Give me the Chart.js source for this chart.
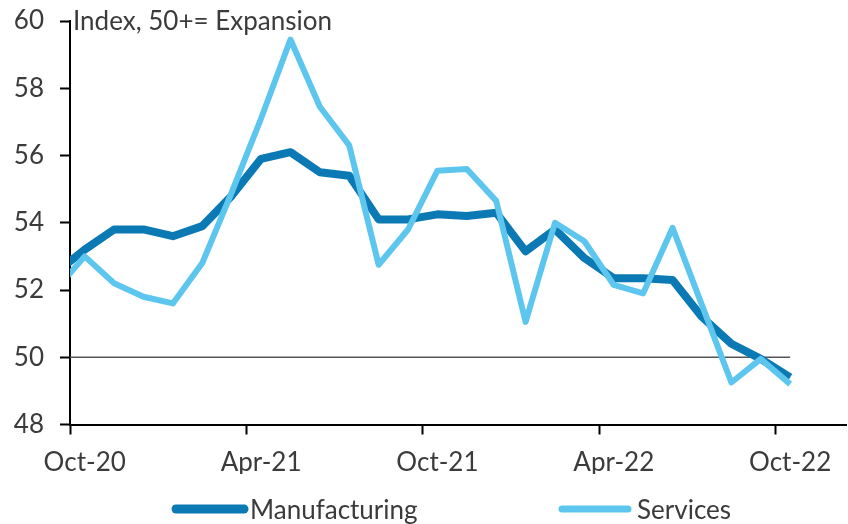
<!DOCTYPE html>
<html>
<head>
<meta charset="utf-8">
<script src="https://cdn.jsdelivr.net/npm/chart.js@4"></script>
<style>
  body { margin: 0; background: #fff; }
  #wrap { width: 848px; height: 524px; }
</style>
</head>
<body>
<div id="wrap"><canvas id="pmiChart"></canvas></div>
<script>
// monthly PMI readings, Sep-20 is only partly visible (clipped at the axis)
const months = ['Sep-20', 'Oct-20', 'Nov-20', 'Dec-20', 'Jan-21', 'Feb-21', 'Mar-21', 'Apr-21', 'May-21',
    'Jun-21', 'Jul-21', 'Aug-21', 'Sep-21', 'Oct-21', 'Nov-21', 'Dec-21', 'Jan-22', 'Feb-22', 'Mar-22',
    'Apr-22', 'May-22', 'Jun-22', 'Jul-22', 'Aug-22', 'Sep-22', 'Oct-22'];
const manufacturing = [52.5, 53.2, 53.8, 53.8, 53.6, 53.9, 54.8, 55.9, 56.1, 55.5, 55.4, 54.1, 54.1,
    54.25, 54.2, 54.3, 53.15, 53.8, 52.95, 52.35, 52.35, 52.3, 51.2, 50.4, 49.95, 49.4];
const services = [52.0, 53.0, 52.2, 51.8, 51.6, 52.8, 54.9, 57.1, 59.45, 57.45, 56.3, 52.75, 53.8,
    55.55, 55.6, 54.65, 51.05, 54.0, 53.45, 52.15, 51.9, 53.85, 51.55, 49.25, 49.95, 49.2];
const tickLabels = ['Oct-20', 'Apr-21', 'Oct-21', 'Apr-22', 'Oct-22'];
const yTicks = [48, 50, 52, 54, 56, 58, 60];
const refLevel = 50;
const axisNote = 'Index, 50+= Expansion';

const FONT = 'Lato';
const TEXT = '#3b3b3b';

// month i of the list sits in the middle of its month, Oct-20 starts at 0
const toPoints = arr => arr.map((v, i) => ({ x: i - 0.5, y: v }));

const notePlugin = {
    id: 'axisNote',
    afterDraw(chart) {
        const ctx = chart.ctx;
        const y = chart.scales.y.getPixelForValue(60);
        ctx.save();
        ctx.font = `26px ${FONT}`;
        ctx.fillStyle = TEXT;
        ctx.textBaseline = 'middle';
        ctx.fillText(axisNote, chart.chartArea.left + 3, y + 1);
        ctx.restore();
    }
};

const legendPlugin = {
    id: 'lineLegend',
    afterDraw(chart) {
        const ctx = chart.ctx;
        const spots = [[176, 244, 250], [562, 628, 637]];
        ctx.save();
        ctx.font = `26px ${FONT}`;
        ctx.textBaseline = 'middle';
        chart.data.datasets.slice(0, 2).forEach((ds, i) => {
            const [x0, x1, tx] = spots[i];
            ctx.strokeStyle = ds.borderColor;
            ctx.lineWidth = i === 0 ? 9 : 7;
            ctx.lineCap = 'round';
            ctx.beginPath();
            ctx.moveTo(x0, 509);
            ctx.lineTo(x1, 509);
            ctx.stroke();
            ctx.fillStyle = TEXT;
            ctx.fillText(ds.label, tx, 511);
        });
        ctx.restore();
    }
};

new Chart(document.getElementById('pmiChart'), {
    type: 'line',
    data: {
        datasets: [
            {
                label: 'Manufacturing',
                data: toPoints(manufacturing),
                borderColor: '#0b79b3',
                borderWidth: 8,
                order: 1
            },
            {
                label: 'Services',
                data: toPoints(services),
                borderColor: '#5dc6ef',
                borderWidth: 6,
                order: 0
            },
            {
                label: 'ref',
                data: [{ x: 0, y: refLevel }, { x: months.length - 1.5, y: refLevel }],
                borderColor: '#555555',
                borderWidth: 1.5,
                order: 2
            }
        ]
    },
    options: {
        responsive: true,
        maintainAspectRatio: false,
        animation: false,
        layout: { padding: { left: 0, right: 2, top: 21, bottom: 50 } },
        elements: {
            point: { radius: 0 },
            line: { tension: 0, borderJoinStyle: 'round', borderCapStyle: 'butt' }
        },
        scales: {
            x: {
                type: 'linear',
                min: 0,
                max: 26.4,
                afterBuildTicks: s => { s.ticks = [0, 6, 12, 18, 24].map(v => ({ value: v })); },
                afterFit: s => { s.height = 49.5; s.paddingLeft = 0; s.paddingRight = 0; },
                border: { display: true, color: '#000', width: 2 },
                grid: { drawOnChartArea: false, drawTicks: true, tickLength: 10, tickColor: '#000', tickWidth: 2 },
                ticks: {
                    autoSkip: false,
                    maxRotation: 0,
                    labelOffset: 14.7,
                    padding: 13,
                    color: TEXT,
                    font: { family: FONT, size: 26 },
                    callback: (v, i) => tickLabels[i]
                }
            },
            y: {
                min: 48,
                max: 60,
                afterBuildTicks: s => { s.ticks = yTicks.map(v => ({ value: v })); },
                afterFit: s => { s.width = 70; s.paddingTop = 0; s.paddingBottom = 0; },
                border: { display: true, color: '#000', width: 2 },
                grid: { drawOnChartArea: false, drawTicks: true, tickLength: 10, tickColor: '#000', tickWidth: 2 },
                ticks: {
                    padding: 16,
                    color: TEXT,
                    font: { family: FONT, size: 26 }
                }
            }
        },
        plugins: {
            legend: { display: false },
            tooltip: { enabled: false }
        }
    },
    plugins: [notePlugin, legendPlugin]
});
</script>
</body>
</html>
